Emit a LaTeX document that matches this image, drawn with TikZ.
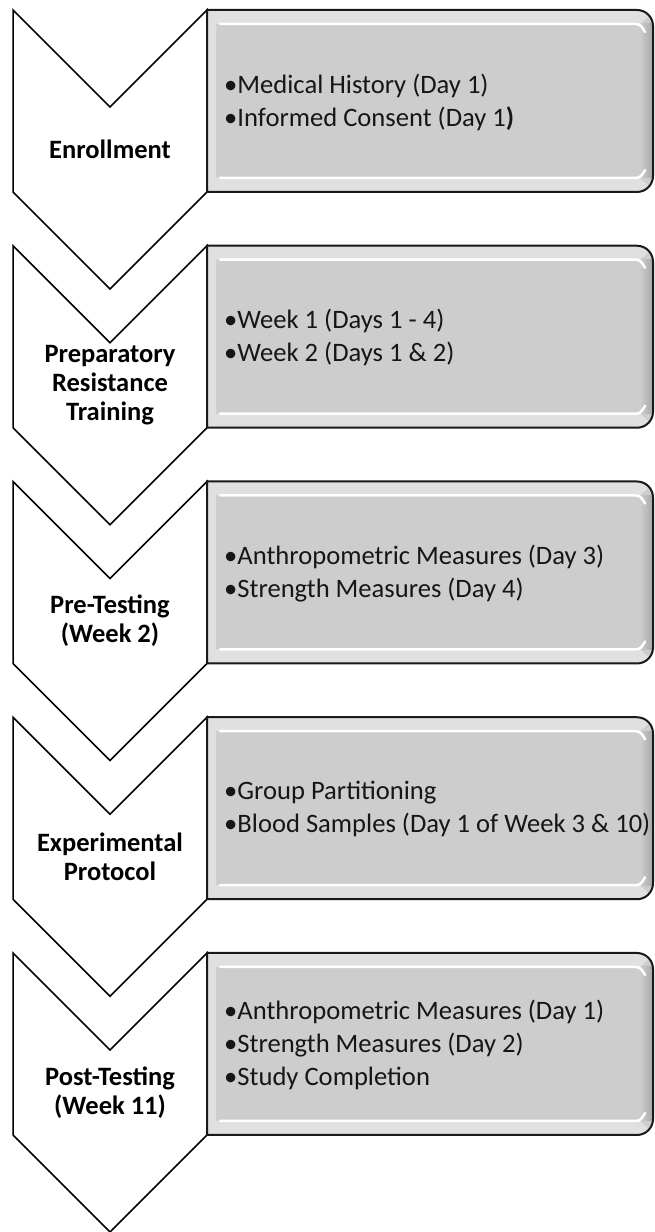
\documentclass[tikz,border=0pt]{standalone}
\usepackage{fontspec}
\setmainfont{Carlito}
\definecolor{boxgray}{RGB}{205,205,205}
\definecolor{bevlight}{RGB}{224,224,224}
\definecolor{bevdark}{RGB}{170,170,170}
\definecolor{txtcol}{RGB}{22,22,22}
\tikzset{
  chev/.style={draw=black, line width=1.5pt, fill=white, line join=miter},
  boxout/.style={draw=black!90, line width=2pt},
  chevtext/.style={font=\fontsize{26.5}{29}\selectfont\bfseries, align=center, text=black, inner sep=0pt},
  boxtext/.style={font=\fontsize{26.6}{33}\selectfont, align=left, text=txtcol, anchor=west, inner sep=0pt},
  hiline/.style={draw=white, line width=2.5pt, line cap=round},
}
\newcommand\mystage[4]{%
  % chevron
  \draw[chev] (13,#2) -- (110,{#2-97}) -- (207,#2) -- (207,{#2-182}) -- (110,{#2-279}) -- (13,{#2-182}) -- cycle;
  % box base
  \fill[boxgray] (207,#2) -- (637,#2) arc[start angle=90,end angle=0,radius=16pt] -- (653,{#2-166}) arc[start angle=0,end angle=-90,radius=16pt] -- (207,{#2-182}) -- cycle;
  % right shadow strip
  \shade[left color=boxgray, right color=bevdark] (640,{#2-14}) rectangle (652,{#2-168});
  % left light strip
  \fill[bevlight] (208,{#2-2}) -- (216,{#2-14}) -- (216,{#2-168}) -- (208,{#2-180}) -- cycle;
  % top and bottom bevel bands
  \fill[bevlight] (208,{#2-1}) -- (637,{#2-1}) arc[start angle=90,end angle=40,radius=15pt] -- (640,{#2-14}) -- (216,{#2-14}) -- cycle;
  \fill[bevlight] (208,{#2-181}) -- (637,{#2-181}) arc[start angle=-90,end angle=-40,radius=15pt] -- (640,{#2-168}) -- (216,{#2-168}) -- cycle;
  \draw[hiline] (220,{#2-14}) -- (636,{#2-14}) to[out=0,in=120] (645,{#2-22});
  \draw[hiline] (220,{#2-168}) -- (636,{#2-168}) to[out=0,in=-120] (645,{#2-160});
  % outline
  \draw[boxout] (207,#2) -- (637,#2) arc[start angle=90,end angle=0,radius=16pt] -- (653,{#2-166}) arc[start angle=0,end angle=-90,radius=16pt] -- (207,{#2-182}) -- cycle;
  % texts
  \node[chevtext] (chev#1) at (110,{#2-139.5}) {#3};
  \node[boxtext] (box#1) at (224,{#2-92}) {#4};
}
\begin{document}
\begin{tikzpicture}[x=1pt,y=1pt]
\useasboundingbox (0,0) rectangle (655,1232);
\fill[white] (0,0) rectangle (655,1232);
\mystage{1}{1222}{Enrollment}{•Medical History (Day 1)\\•Informed Consent (Day 1\textbf{)}}
\mystage{2}{986.25}{Preparatory\\Resistance\\Training}{•Week 1 (Days 1 - 4)\\•Week 2 (Days 1 \& 2)}
\mystage{3}{750.5}{Pre-Testing\\(Week 2)}{•Anthropometric Measures (Day 3)\\•Strength Measures (Day 4)}
\mystage{4}{514.75}{Experimental\\Protocol}{•Group Partitioning\\•Blood Samples (Day 1 of Week 3 \& 10)}
\mystage{5}{279}{Post-Testing\\(Week 11)}{•Anthropometric Measures (Day 1)\\•Strength Measures (Day 2)\\•Study Completion}
\end{tikzpicture}
\end{document}
